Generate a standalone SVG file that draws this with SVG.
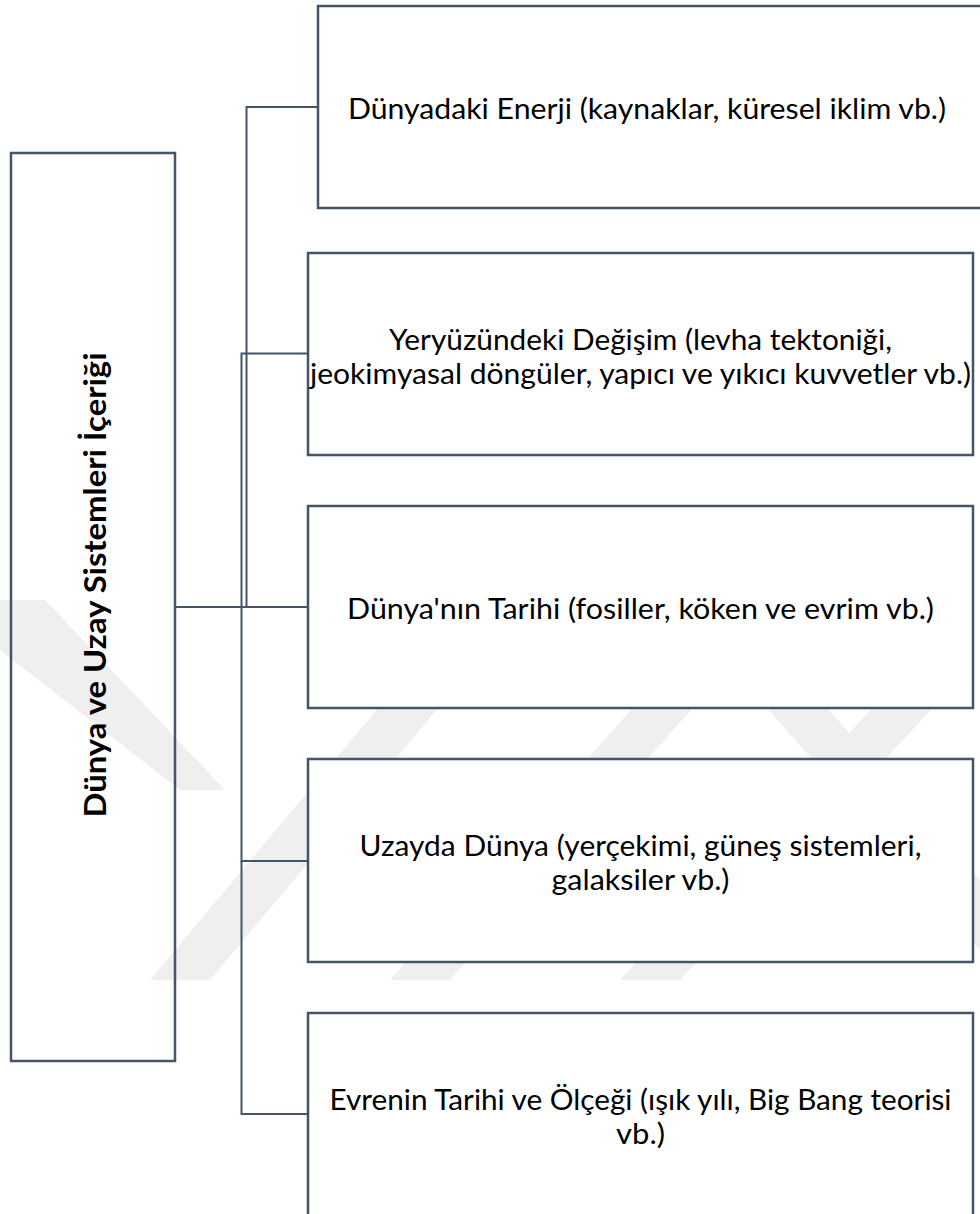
<svg xmlns="http://www.w3.org/2000/svg" width="980" height="1214" viewBox="0 0 980 1214">
  <style>
    .box { fill: #ffffff; stroke: #44546a; stroke-width: 2.5; }
    .main { fill: none; stroke: #44546a; stroke-width: 2.5; }
    .conn { fill: none; stroke: #44546a; stroke-width: 2; }
    .wm { fill: #efefef; stroke: none; }
    .lbl { font-family: Lato, "Open Sans", "DejaVu Sans", sans-serif; font-size: 28px; fill: #000000; text-anchor: middle; }
    .title { font-family: Lato, "Open Sans", "DejaVu Sans", sans-serif; font-size: 31px; font-weight: bold; fill: #000000; text-anchor: middle; }
  </style>
  <rect x="0" y="0" width="980" height="1214" fill="#ffffff"/>
  <g id="watermark">
    <polygon class="wm" points="0,600 45,600 225,790 180,790 0,650"/>
    <polygon class="wm" points="150,980 210,980 445,700 385,700"/>
    <polygon class="wm" points="390,980 450,980 700,700 640,700"/>
    <polygon class="wm" points="620,980 680,980 940,700 880,700"/>
    <polygon class="wm" points="760,700 820,700 980,880 980,950"/>
  </g>
  <g id="connectors">
    <path class="conn" d="M175,607 H308"/>
    <path class="conn" d="M175,607 H246.5 V107 H318"/>
    <path class="conn" d="M175,607 H241.5 V353.5 H308"/>
    <path class="conn" d="M241.5,607 V861 H308"/>
    <path class="conn" d="M241.5,861 V1114 H308"/>
  </g>
  <g id="node-main">
    <rect class="main" x="11" y="153" width="164" height="908"/>
    <text class="title" transform="translate(106,585) rotate(-90)" x="0" y="0" textLength="465" lengthAdjust="spacingAndGlyphs">Dünya ve Uzay Sistemleri İçeriği</text>
  </g>
  <g id="node-1">
    <rect class="box" x="318" y="6" width="665" height="202"/>
    <text class="lbl" x="647" y="119" textLength="598" lengthAdjust="spacingAndGlyphs">Dünyadaki Enerji (kaynaklar, küresel iklim vb.)</text>
  </g>
  <g id="node-2">
    <rect class="box" x="308" y="253" width="665" height="202"/>
    <text class="lbl" x="640.5" y="350" textLength="503" lengthAdjust="spacingAndGlyphs">Yeryüzündeki Değişim (levha tektoniği,</text>
    <text class="lbl" x="640.5" y="384" textLength="661" lengthAdjust="spacingAndGlyphs">jeokimyasal döngüler, yapıcı ve yıkıcı kuvvetler vb.)</text>
  </g>
  <g id="node-3">
    <rect class="box" x="308" y="506" width="665" height="202"/>
    <text class="lbl" x="640.5" y="619" textLength="587" lengthAdjust="spacingAndGlyphs">Dünya'nın Tarihi (fosiller, köken ve evrim vb.)</text>
  </g>
  <g id="node-4">
    <rect class="box" x="308" y="759" width="665" height="203"/>
    <text class="lbl" x="640.5" y="856" textLength="562" lengthAdjust="spacingAndGlyphs">Uzayda Dünya (yerçekimi, güneş sistemleri,</text>
    <text class="lbl" x="640.5" y="890" textLength="178" lengthAdjust="spacingAndGlyphs">galaksiler vb.)</text>
  </g>
  <g id="node-5">
    <rect class="box" x="308" y="1013" width="665" height="203"/>
    <text class="lbl" x="640.5" y="1110" textLength="622" lengthAdjust="spacingAndGlyphs">Evrenin Tarihi ve Ölçeği (ışık yılı, Big Bang teorisi</text>
    <text class="lbl" x="640.5" y="1144" textLength="49" lengthAdjust="spacingAndGlyphs">vb.)</text>
  </g>
</svg>
